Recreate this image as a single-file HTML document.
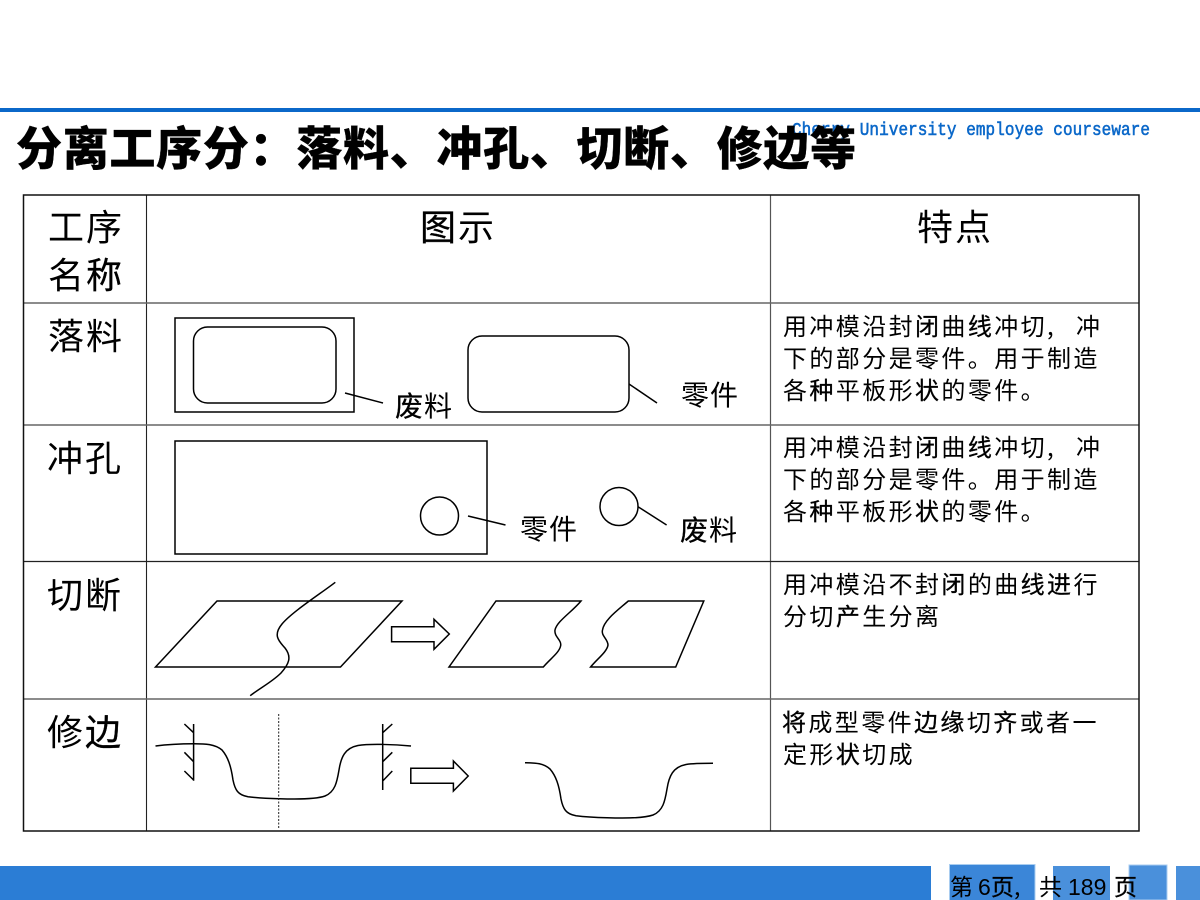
<!DOCTYPE html>
<html><head><meta charset="utf-8"><style>
html,body{margin:0;padding:0;background:#fff}
svg{display:block}
text{font-family:"WenQuanYi Zen Hei","Noto Sans CJK SC",sans-serif;fill:#000}
.b{font-size:24px;letter-spacing:2.4px}
.h{font-size:36px;letter-spacing:2px}
.l{font-size:28px;letter-spacing:1px}
.k{stroke:#000;stroke-width:.3}
.s{fill:none;stroke:#000;stroke-width:1.5}
</style></head><body>
<svg width="1200" height="900" viewBox="0 0 1200 900" xmlns="http://www.w3.org/2000/svg">
<rect width="1200" height="900" fill="#fff"/>
<rect x="0" y="108" width="1200" height="4" fill="#0b68c9"/>
<text transform="translate(792 135) scale(1 1.15)" x="0" y="0" style="font-family:'Liberation Mono',monospace;font-size:16px;fill:#0b68c9;stroke:#0b68c9;stroke-width:.5" textLength="358" lengthAdjust="spacing">Cherry University employee courseware</text>
<text x="16" y="165" style="font-family:'Noto Sans CJK SC',sans-serif;font-weight:900;font-size:46px;stroke:#000;stroke-width:.3" textLength="840" lengthAdjust="spacing">分离工序分：落料、冲孔、切断、修边等</text>

<g fill="none">
<path d="M146.500 195V831" stroke="#222" stroke-width="1.1"/>
<path d="M770.500 195V831" stroke="#555" stroke-width="1.2"/>
<path d="M23 303H1139M23 425H1139M23 699H1139" stroke="#666" stroke-width="1.500"/>
<path d="M23 561.500H1139" stroke="#222" stroke-width="1.300"/>
<rect x="23.500" y="195" width="1115.500" height="636" stroke="#111" stroke-width="1.500"/>
</g>

<text class="h" x="48" y="240">工序</text>
<text class="h" x="48" y="288">名<tspan class="k">称</tspan></text>
<text class="h" x="420" y="240"><tspan class="k">图</tspan>示</text>
<text class="h" x="917" y="240">特点</text>
<text class="h" x="48" y="349">落料</text>
<text class="h" x="47" y="471">冲孔</text>
<text class="h" x="47" y="608">切断</text>
<text class="h" x="47" y="745">修<tspan class="k">边</tspan></text>

<text class="b" x="783" y="335">用冲模沿封<tspan class="k">闭</tspan>曲<tspan class="k">线</tspan>冲切,</text><text class="b" x="1076" y="335">冲</text>
<text class="b" x="783" y="367">下的部分是零件。用于制造</text>
<text class="b" x="783" y="399">各<tspan class="k">种</tspan>平板形<tspan class="k">状</tspan>的零件。</text>
<text class="b" x="783" y="456">用冲模沿封<tspan class="k">闭</tspan>曲<tspan class="k">线</tspan>冲切,</text><text class="b" x="1076" y="456">冲</text>
<text class="b" x="783" y="488">下的部分是零件。用于制造</text>
<text class="b" x="783" y="520">各<tspan class="k">种</tspan>平板形<tspan class="k">状</tspan>的零件。</text>
<text class="b" x="783" y="593">用冲模沿不封<tspan class="k">闭</tspan>的曲<tspan class="k">线进</tspan>行</text>
<text class="b" x="783" y="625">分切<tspan class="k">产</tspan>生分离</text>
<text class="b" x="782" y="731"><tspan class="k">将</tspan>成型零件<tspan class="k">边缘</tspan>切<tspan class="k">齐</tspan>或者一</text>
<text class="b" x="783" y="763">定形<tspan class="k">状</tspan>切成</text>

<rect class="s" x="175" y="318" width="179" height="94"/>
<rect class="s" x="193.500" y="327" width="142.500" height="76" rx="14"/>
<rect class="s" x="468" y="336" width="161" height="76" rx="14"/>
<path class="s" d="M345 393L383 403M629 384L657 403"/>
<text class="l" x="395" y="416"><tspan class="k">废</tspan>料</text>
<text class="l" x="681" y="405">零件</text>

<rect class="s" x="175" y="441" width="312" height="113"/>
<circle class="s" cx="439.500" cy="516" r="19"/>
<circle class="s" cx="619" cy="506.500" r="19"/>
<path class="s" d="M468 516L505.500 525M638 506.700L666.600 525"/>
<text class="l" x="520" y="539">零件</text>
<text class="l" x="680" y="540"><tspan class="k">废</tspan>料</text>

<path class="s" d="M217 601H402L340.500 667H155.500Z"/>
<path class="s" d="M335.300 582.300C320 594 292 612 282 624C272 636 280 642 285 648C292 657 289 664 281 673C272 682 260 688 250.200 695.700"/>
<path class="s" d="M391.600 626.700H434V619.300L449.300 634L434 649.300V641.700H391.600Z"/>
<path class="s" d="M496 601H581C572 612 557 621 555 630C554 637 562 640 560.600 646C559 653 550 659 543.300 667H449Z"/>
<path class="s" d="M628.300 601H703.800L675.700 667H590.600C597 659 607 652 608 645C608 639 601 636 602.500 630C604 620 618 610 628.300 601Z"/>

<path class="s" d="M155.500 746C170 744 185 743.700 194 743.700C205 743.700 215 744 222 750C228 757 231 766 233 780C235 790 238 795 248 796.700C258 798 270 798.500 279 798.700C295 799.300 315 799.500 325 796C335 792 337 782 339 770C341 757 345 748 358 745.500C370 743.500 395 744.500 411 746"/>
<path class="s" d="M193.600 724V780.700M184.400 724L193.600 732.700M184.400 752.300L193.600 761.700M184.400 771L193.600 780"/>
<path class="s" d="M382.700 724V790M392.300 724L382.700 732.700M392.300 752.300L382.700 761.700M392.300 771L382.700 781"/>
<path d="M278.700 714V828" stroke="#222" stroke-width="1" stroke-dasharray="2 1.500" fill="none"/>
<path class="s" d="M410.800 768.300H453.400V761L468.200 776L453.400 791V783.300H410.800Z"/>
<path class="s" d="M525 762.700C536 763 543 763 550 769C556 776 559 785 561 799C563 809 566 814 576 815.700C586 817 598 817.500 607 817.700C623 818.300 643 818.500 653 815C663 811 665 801 667 789C669 776 673 767 686 764.500C694 763.300 704 763.300 713 763.300"/>

<rect x="0" y="866" width="931" height="34" fill="#2b7dd5"/>
<rect x="949.500" y="864.500" width="85.500" height="36" fill="#3b86d8" stroke="#a9cdf0" stroke-width="1"/>
<rect x="1053" y="866" width="57" height="34" fill="#4a90db"/>
<rect x="1129" y="865" width="38" height="35" fill="#4a90db" stroke="#a9cdf0" stroke-width="1"/>
<rect x="1176" y="866" width="24" height="34" fill="#4a90db"/>
<g style="font-size:23px">
<text x="950" y="895">第</text><text x="978" y="895" style="font-family:'Liberation Sans',sans-serif">6</text><text x="991" y="895"><tspan class="k">页</tspan>,</text>
<text x="1039" y="895">共</text><text x="1068" y="895" style="font-family:'Liberation Sans',sans-serif">189</text><text x="1114" y="895"><tspan class="k">页</tspan></text>
</g>
</svg>
</body></html>
